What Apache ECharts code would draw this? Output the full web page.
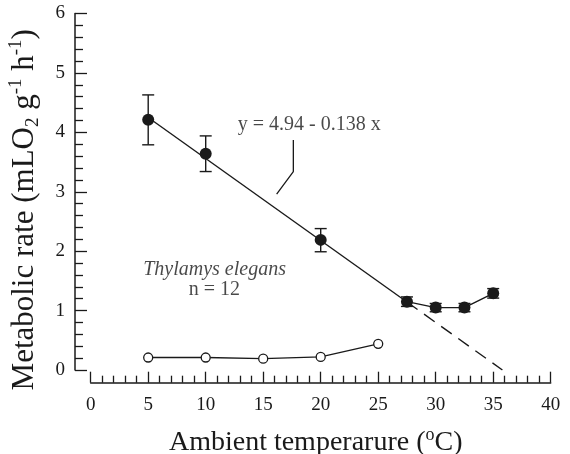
<!DOCTYPE html>
<html>
<head>
<meta charset="utf-8">
<script src="https://cdn.jsdelivr.net/npm/echarts@6/dist/echarts.min.js"></script>
<style>html,body{margin:0;padding:0;background:#fff}#c{width:570px;height:454px}</style>
</head>
<body>
<div id="c"></div>
<script>
// Awake metabolic rate (filled circles, mean ± error)
var tempAwake = [5, 10, 20, 27.5, 30, 32.5, 35];
var rateAwake = [4.21, 3.64, 2.19, 1.15, 1.05, 1.05, 1.29];
var errLow    = [3.79, 3.34, 1.99, 1.07, 0.98, 0.98, 1.21];
var errHigh   = [4.63, 3.94, 2.38, 1.23, 1.12, 1.12, 1.37];
// Torpor metabolic rate (open circles)
var tempTorpor = [5, 10, 15, 20, 25];
var rateTorpor = [0.21, 0.21, 0.19, 0.22, 0.44];
// Regression line y = 4.94 - 0.138 x (solid part and dashed extension)
var regSolid  = [[5, 4.25], [27.5, 1.145]];
var regDashed = [[27.5, 1.145], [35.8, 0]];
// Leader line from the equation label to the regression line
var leader = [[17.62, 3.87], [17.62, 3.34], [16.17, 2.96]];
var xTicks = [0, 5, 10, 15, 20, 25, 30, 35, 40];
var yTicks = [0, 1, 2, 3, 4, 5, 6];

var INK = '#1a1a1a';
var FONT = 'Liberation Serif';

var chart = echarts.init(document.getElementById('c'), null, {renderer: 'canvas'});

var awakeData = tempAwake.map(function (t, i) { return [t, rateAwake[i]]; });
var torporData = tempTorpor.map(function (t, i) { return [t, rateTorpor[i]]; });
var errData = tempAwake.map(function (t, i) { return [t, errLow[i], errHigh[i]]; });

function textPoint(x, y, txt, style) {
  return {
    type: 'scatter', symbolSize: 1, silent: true,
    itemStyle: {color: 'transparent'},
    data: [[x, y]],
    label: Object.assign({show: true, position: 'inside', formatter: txt,
      color: INK, fontFamily: FONT, fontSize: 20}, style || {})
  };
}

var option = {
  backgroundColor: '#fff',
  animation: false,
  grid: {left: 90.7, right: 19.3, top: 13.5, bottom: 84, containLabel: false, outerBoundsMode: 'none'},
  xAxis: {
    type: 'value', min: 0, max: 40, interval: 5, offset: 12.7,
    axisLine: {show: true, onZero: false, lineStyle: {color: INK, width: 1.5}},
    axisTick: {show: true, inside: true, length: 11, lineStyle: {color: INK, width: 1.3}},
    minorTick: {show: true, splitNumber: 5, length: 7, lineStyle: {color: INK, width: 1.3}},
    splitLine: {show: false},
    axisLabel: {color: INK, fontFamily: FONT, fontSize: 19, margin: 13,
      formatter: function (v) { return xTicks.indexOf(v) >= 0 ? String(v) : ''; }},
    name: '{n|Ambient temperarure (}{s|o}{n|C)}',
    nameLocation: 'middle', nameGap: 44,
    nameTextStyle: {padding: [0, 10, 0, 0], rich: {
      n: {fontFamily: FONT, fontSize: 28, color: INK, lineHeight: 30, verticalAlign: 'bottom'},
      s: {fontFamily: FONT, fontSize: 18, color: INK, lineHeight: 30, verticalAlign: 'top'}
    }}
  },
  yAxis: {
    type: 'value', min: 0, max: 6, interval: 1, offset: 15.7,
    axisLine: {show: true, onZero: false, lineStyle: {color: INK, width: 1.5}},
    axisTick: {show: true, inside: true, length: 12, lineStyle: {color: INK, width: 1.3}},
    minorTick: {show: true, splitNumber: 5, length: 8, lineStyle: {color: INK, width: 1.3}},
    splitLine: {show: false},
    axisLabel: {color: INK, fontFamily: FONT, fontSize: 19, margin: 10,
      formatter: function (v) { return yTicks.indexOf(v) >= 0 ? String(v) : ''; }},
    name: '{n|Metabolic rate (mLO}{b|2}{n| g}{s|-1}{n| h}{s|-1}{n|)}',
    nameLocation: 'middle', nameGap: 32, nameRotate: 90,
    nameTextStyle: {padding: [0, 36, 0, 0], rich: {
      n: {fontFamily: FONT, fontSize: 31, color: INK, lineHeight: 36, verticalAlign: 'middle'},
      s: {fontFamily: FONT, fontSize: 19, color: INK, lineHeight: 36, verticalAlign: 'top'},
      b: {fontFamily: FONT, fontSize: 19, color: INK, lineHeight: 36, verticalAlign: 'bottom'}
    }}
  },
  series: [
    {type: 'line', data: regSolid, symbol: 'none', silent: true, z: 2,
      lineStyle: {color: INK, width: 1.4}},
    {type: 'line', data: regDashed, symbol: 'none', silent: true, z: 2,
      lineStyle: {color: INK, width: 1.4, type: [13, 8]}},
    {type: 'line', data: leader, symbol: 'none', silent: true, z: 2,
      lineStyle: {color: INK, width: 1.3}},
    {type: 'custom', z: 3, silent: true, data: errData,
      renderItem: function (params, api) {
        var x = api.value(0);
        var lo = api.coord([x, api.value(1)]);
        var hi = api.coord([x, api.value(2)]);
        var hw = 6;
        var st = {stroke: INK, lineWidth: 1.4};
        return {type: 'group', children: [
          {type: 'line', shape: {x1: lo[0], y1: lo[1], x2: hi[0], y2: hi[1]}, style: st},
          {type: 'line', shape: {x1: lo[0] - hw, y1: lo[1], x2: lo[0] + hw, y2: lo[1]}, style: st},
          {type: 'line', shape: {x1: hi[0] - hw, y1: hi[1], x2: hi[0] + hw, y2: hi[1]}, style: st}
        ]};
      }},
    {type: 'line', z: 4, silent: true,
      data: awakeData.filter(function (d) { return d[0] >= 27.5; }),
      symbol: 'none', lineStyle: {color: INK, width: 1.4}},
    {type: 'scatter', z: 5, silent: true, data: awakeData, symbol: 'circle', symbolSize: 12,
      itemStyle: {color: INK, opacity: 1}},
    {type: 'line', z: 5, silent: true, data: torporData, symbol: 'circle', symbolSize: 9,
      showAllSymbol: true,
      lineStyle: {color: INK, width: 1.3},
      itemStyle: {color: '#fff', borderColor: INK, borderWidth: 1.3, opacity: 1}},
    textPoint(19.0, 4.12, 'y = 4.94 - 0.138 x', {fontSize: 20}),
    textPoint(10.77, 1.69, 'Thylamys elegans', {fontSize: 20, fontStyle: 'italic'}),
    textPoint(10.75, 1.35, 'n = 12', {fontSize: 20})
  ]
};
chart.setOption(option);
</script>
</body>
</html>
